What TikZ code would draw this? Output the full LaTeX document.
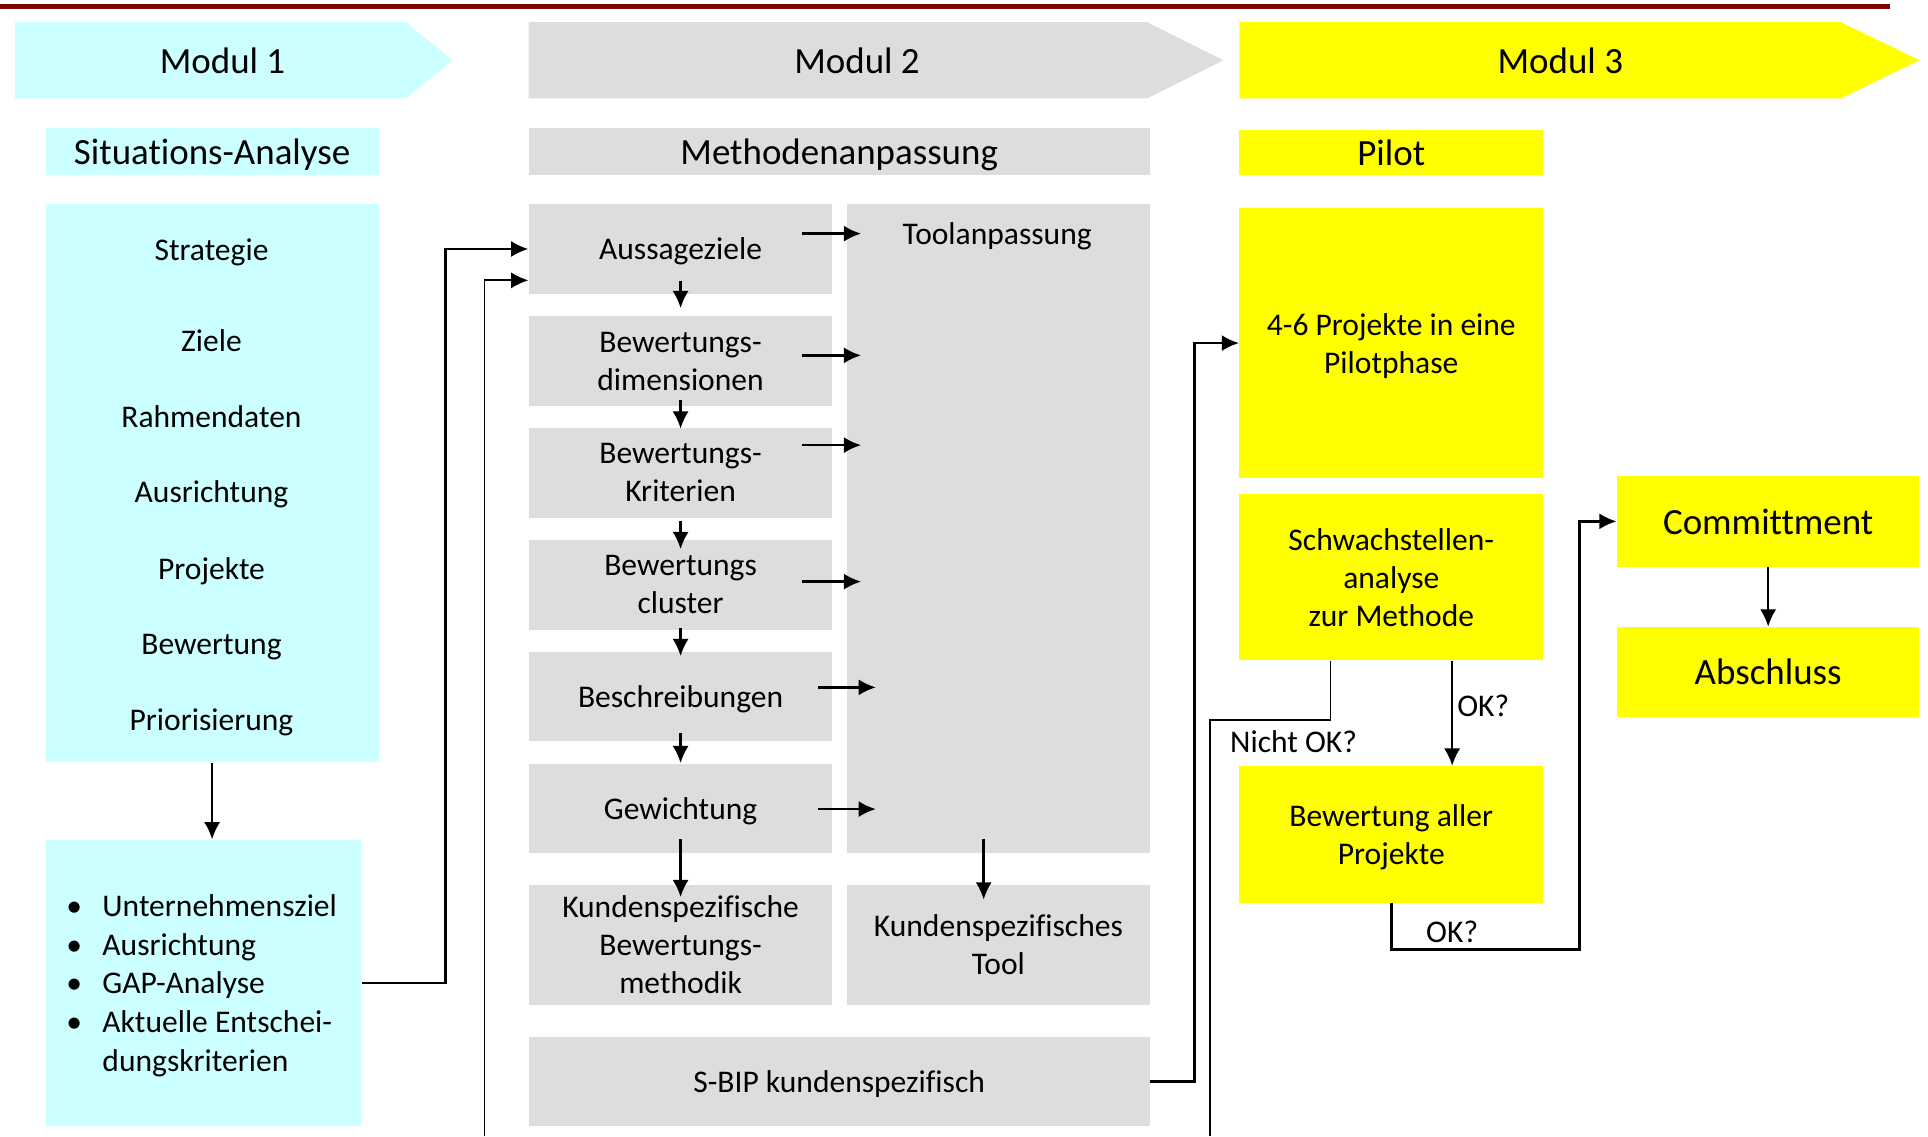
\documentclass[tikz,border=0pt]{standalone}
\usepackage{fontspec}
\setmainfont{Carlito}[Ligatures=CommonOff]
\usetikzlibrary{arrows.meta,calc}

\definecolor{cyanbg}{RGB}{204,255,255}
\definecolor{greybg}{RGB}{221,221,221}
\definecolor{yellowbg}{RGB}{255,255,0}
\definecolor{topred}{RGB}{128,0,0}

\begin{document}
\begin{tikzpicture}[x=0.02cm, y=-0.02cm, font=\fontsize{14.6}{17.6}\selectfont,
    box/.style={inner sep=0pt, align=center, text depth=0pt, minimum width=4.94cm, minimum height=1.46cm},
    cyanbox/.style={box, fill=cyanbg},
    greybox/.style={box, fill=greybg},
    yellowbox/.style={box, fill=yellowbg},
    item/.style={text depth=0pt},
    bigtext/.style={font=\fontsize{17.1}{20.5}\selectfont},
    arr/.style={line width=1.2pt, -{Latex[length=8pt,width=7.5pt]}},
    thinarr/.style={line width=0.8pt, -{Latex[length=8pt,width=7.5pt]}},
    thinline/.style={line width=0.8pt}]

    \useasboundingbox (0,0) rectangle (1568,924);

    % Header
    \draw[topred, line width=2.3pt] (0,5) -- (1537,5);
    \fill[cyanbg] (12,18) -- (330,18) -- (368,49) -- (330,80) -- (12,80) -- cycle;
    \fill[greybg] (430,18) -- (933,18) -- (995,49) -- (933,80) -- (430,80) -- cycle;
    \fill[yellowbg] (1008,18) -- (1497,18) -- (1561,49) -- (1497,80) -- (1008,80) -- cycle;
    \node[bigtext] (mod1) at (181,49.5) {Modul 1};
    \node[bigtext] (mod2) at (697,49.5) {Modul 2};
    \node[bigtext] (mod3) at (1269,49.5) {Modul 3};

    \node[cyanbox, bigtext, minimum width=5.42cm, minimum height=0.76cm] (sit) at (172.5,123) {Situations-Analyse};
    \node[greybox, bigtext, minimum width=10.1cm, minimum height=0.76cm] (meth) at (682.5,123) {Methodenanpassung};
    \node[yellowbox, bigtext, minimum height=0.72cm] (pilot) at (1131.5,124) {Pilot};

    % Modul 1
    \node[cyanbox, minimum width=5.42cm, minimum height=9.08cm] (sa) at (172.5,393) {};
    \node[item] (str) at (172,203) {Strategie};
    \node[item] (zie) at (172,277) {Ziele};
    \node[item] (rah) at (172,339) {Rahmendaten};
    \node[item] (ausr) at (172,400) {Ausrichtung};
    \node[item] (prj) at (172,462) {Projekte};
    \node[item] (bwt) at (172,524) {Bewertung};
    \node[item] (prio) at (172,585) {Priorisierung};

    \node[cyanbox, minimum width=5.14cm, minimum height=4.66cm] (gap) at (165.5,799.5) {};
    \node[anchor=west, inner sep=0pt, align=left, font=\fontsize{14.6}{17.9}\selectfont] (gaplist) at (52,802) {%
        \begin{tabular}{@{}l@{\hspace{0.3cm}}l@{}}
        \makebox[0.32cm]{\textbullet} & Unternehmensziel\\
        \makebox[0.32cm]{\textbullet} & Ausrichtung\\
        \makebox[0.32cm]{\textbullet} & GAP-Analyse\\
        \makebox[0.32cm]{\textbullet} & Aktuelle Entschei-\\
         & dungskriterien
        \end{tabular}};

    % Modul 2
    \node[greybox] (aus) at (553.5,202.5) {Aussageziele};
    \node[greybox] (dim) at (553.5,293.5) {Bewertungs-\\dimensionen};
    \node[greybox] (krit) at (553.5,384.5) {Bewertungs-\\Kriterien};
    \node[greybox] (clu) at (553.5,475.5) {Bewertungs\\cluster};
    \node[greybox] (bes) at (553.5,566.5) {Beschreibungen};
    \node[greybox] (gew) at (553.5,657.5) {Gewichtung};
    \node[greybox, minimum height=1.94cm] (kbm) at (553.5,768.5) {Kundenspezifische\\Bewertungs-\\methodik};
    \node[greybox, minimum width=4.92cm, minimum height=10.56cm] (tool) at (812,430) {};
    \node[item] (tooltxt) at (811,190) {Toolanpassung};
    \node[greybox, minimum width=4.92cm, minimum height=1.94cm] (kst) at (812,768.5) {Kundenspezifisches\\Tool};
    \node[greybox, minimum width=10.1cm] (sbip) at (682.5,879.5) {S-BIP kundenspezifisch};

    % Modul 3
    \node[yellowbox, minimum height=4.4cm] (proj) at (1131.5,279) {4-6 Projekte in eine\\Pilotphase};
    \node[yellowbox, minimum height=2.7cm] (schw) at (1131.5,469.5) {Schwachstellen-\\analyse\\zur Methode};
    \node[yellowbox, minimum height=2.22cm] (bew) at (1131.5,678.5) {Bewertung aller\\Projekte};
    \node[yellowbox, bigtext, minimum width=4.92cm, minimum height=1.48cm] (comm) at (1438,424) {Committment};
    \node[yellowbox, bigtext, minimum width=4.92cm] (absc) at (1438,546.5) {Abschluss};
    \node (nok) at (1052,603) {Nicht OK?};
    \node (ok2) at (1181,758) {OK?};

    \coordinate (back1) at (394,924);
    \coordinate (back2) at (984,924);

    % Lines
    \draw[arr] (sa.south) -- (sa.south |- gap.north);
    \draw[arr] (gap.east) -- ++(68,0) |- (aus.west);
    \draw[thinarr] (back1) |- ($(aus.west)+(0,25.5)$);

    \draw[arr] ($(aus.south)+(0,-11)$) -- ($(dim.north)+(0,-6)$);
    \draw[arr] ($(dim.south)+(0,-5)$) -- ($(krit.north)+(0,1)$);
    \draw[arr] ($(krit.south)+(0,2)$) -- ($(clu.north)+(0,8)$);
    \draw[arr] ($(clu.south)+(0,-2)$) -- ($(bes.north)+(0,4)$);
    \draw[arr] ($(bes.south)+(0,-7)$) -- (gew.north);
    \draw[arr] ($(gew.south)+(0,-12)$) -- ($(kbm.north)+(0,10)$);
    \draw[arr] ($(tool.south)+(-12,-12)$) -- ($(kst.north)+(-12,12)$);

    \draw[arr] ($(aus.east)+(-25,-12.5)$) -- ++(48,0);
    \draw[arr] ($(dim.east)+(-25,-4.5)$) -- ++(48,0);
    \draw[arr] ($(krit.east)+(-25,-22.5)$) -- ++(48,0);
    \draw[arr] ($(clu.east)+(-25,-2.5)$) -- ++(48,0);
    \draw[arr] ($(bes.east)+(-12,-7.5)$) -- ++(47,0);
    \draw[arr] ($(gew.east)+(-12,0.5)$) -- ++(47,0);

    \draw[arr] (sbip.east) -- ++(36,0) |- (proj.west);
    \draw[thinline] ($(schw.south)+(-49.5,0)$) -- ++(0,48) -| (back2);
    \draw[thinarr] ($(schw.south)+(49.5,0)$) -- ($(bew.north)+(49.5,0)$) node[pos=0.43, right, inner sep=2pt] (ok1) {OK?};
    \draw[arr] (bew.south) -- ++(0,38) -| ($(comm.west)+(-30,0)$) -- (comm.west);
    \draw[arr] (comm.south) -- (absc.north);
\end{tikzpicture}
\end{document}
